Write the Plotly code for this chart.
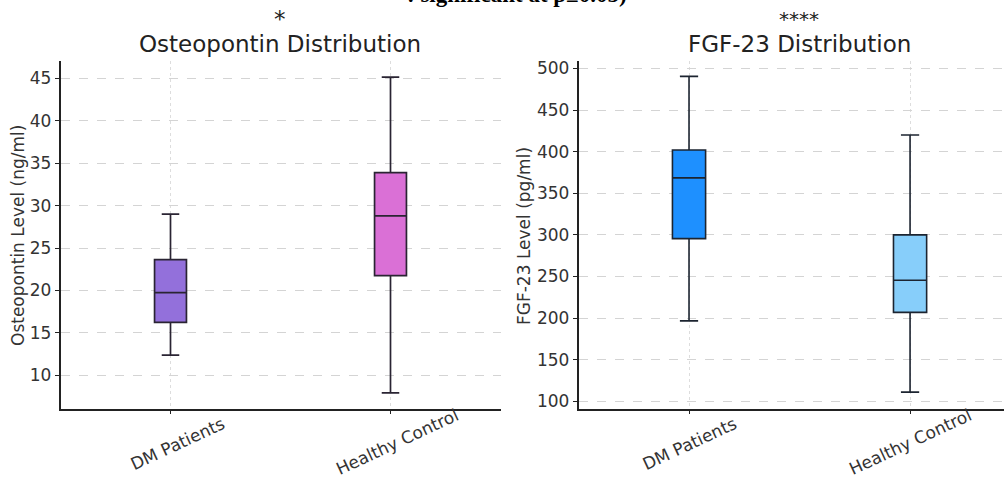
import plotly.graph_objects as go

categories = ["DM Patients", "Healthy Control"]

# Osteopontin (ng/ml) box statistics
opn_lower = [12.4, 7.95]
opn_q1 = [16.25, 21.75]
opn_median = [19.75, 28.8]
opn_q3 = [23.65, 33.9]
opn_upper = [29.0, 45.15]

# FGF-23 (pg/ml) box statistics
fgf_lower = [196.8, 111.2]
fgf_q1 = [295.5, 207.0]
fgf_median = [368.5, 245.5]
fgf_q3 = [402.0, 300.0]
fgf_upper = [490.4, 420.0]

opn_colors = ["#9370DB", "#DA70D6"]
fgf_colors = ["#1E90FF", "#87CEFA"]

W, H = 1004, 493


def px_x(v):
    return v / W


def px_y(v):
    return (H - v) / H


fig = go.Figure()

for i, cat in enumerate(categories):
    fig.add_trace(go.Box(
        x=[i], q1=[opn_q1[i]], median=[opn_median[i]], q3=[opn_q3[i]],
        lowerfence=[opn_lower[i]], upperfence=[opn_upper[i]],
        fillcolor=opn_colors[i], line=dict(color="#2a2433", width=1.7),
        width=0.145, whiskerwidth=0.55, boxpoints=False,
        xaxis="x", yaxis="y", showlegend=False, name=cat,
    ))
    fig.add_trace(go.Box(
        x=[i], q1=[fgf_q1[i]], median=[fgf_median[i]], q3=[fgf_q3[i]],
        lowerfence=[fgf_lower[i]], upperfence=[fgf_upper[i]],
        fillcolor=fgf_colors[i], line=dict(color="#1c2430", width=1.6),
        width=0.15, whiskerwidth=0.55, boxpoints=False,
        xaxis="x2", yaxis="y2", showlegend=False, name=cat,
    ))

ydom = [px_y(408.5), px_y(60.5)]
tickfont = dict(family="DejaVu Sans", size=17, color="#333333")

common_x = dict(
    tickmode="array", tickvals=[0, 1], ticktext=["", ""],
    showgrid=True, gridcolor="#dddddd", griddash="dot", gridwidth=1,
    showline=True, linecolor="#222222", linewidth=1.5,
    ticks="outside", ticklen=4, tickcolor="#222222",
    zeroline=False, fixedrange=True, automargin=False,
)
common_y = dict(
    showgrid=True, gridcolor="#d4d4d4", griddash="dash", gridwidth=1,
    showline=True, linecolor="#222222", linewidth=1.5,
    ticks="outside", ticklen=4, tickcolor="#222222",
    tickfont=tickfont, zeroline=False, fixedrange=True, automargin=False,
)

fig.update_layout(
    width=W, height=H,
    margin=dict(l=0, r=0, t=0, b=0, pad=0, autoexpand=False),
    paper_bgcolor="white", plot_bgcolor="white",
    xaxis=dict(domain=[px_x(60.5), px_x(500.5)], range=[-0.5, 1.5], anchor="y", **common_x),
    yaxis=dict(domain=ydom, range=[6.1, 47.1], tickvals=[10, 15, 20, 25, 30, 35, 40, 45],
               anchor="x", **common_y),
    xaxis2=dict(domain=[px_x(578.5), 1.0], range=[-0.5, 1.425], anchor="y2", **common_x),
    yaxis2=dict(domain=ydom, range=[91.5, 509.5], tickvals=[100, 150, 200, 250, 300, 350, 400, 450, 500],
                anchor="x2", **common_y),
)

ann = []
title_font = dict(family="DejaVu Sans", size=23, color="#222222")
ann.append(dict(text="*", x=px_x(280), y=px_y(19), xref="paper", yref="paper",
                showarrow=False, font=title_font, xanchor="center", yanchor="middle"))
ann.append(dict(text="Osteopontin Distribution", x=px_x(280), y=px_y(44), xref="paper", yref="paper",
                showarrow=False, font=title_font, xanchor="center", yanchor="middle"))
ann.append(dict(text="****", x=px_x(799), y=px_y(19), xref="paper", yref="paper",
                showarrow=False, font=dict(family="DejaVu Sans", size=20, color="#222222"),
                xanchor="center", yanchor="middle"))
ann.append(dict(text="FGF-23 Distribution", x=px_x(799), y=px_y(44), xref="paper", yref="paper",
                showarrow=False, font=title_font, xanchor="center", yanchor="middle"))
# cut-off caption line at the very top
ann.append(dict(text="<b>: significant at p≤0.05)</b>", x=px_x(517), y=px_y(9), xref="paper", yref="paper",
                showarrow=False, font=dict(family="Liberation Serif", size=23, color="#000000"),
                xanchor="center", yanchor="bottom"))
# y axis titles
ylab_font = dict(family="DejaVu Sans", size=17, color="#333333")
ann.append(dict(text="Osteopontin Level (ng/ml)", x=px_x(18), y=px_y(236), xref="paper", yref="paper",
                showarrow=False, font=ylab_font, textangle=-90, xanchor="center", yanchor="middle"))
ann.append(dict(text="FGF-23 Level (pg/ml)", x=px_x(524), y=px_y(236), xref="paper", yref="paper",
                showarrow=False, font=ylab_font, textangle=-90, xanchor="center", yanchor="middle"))
# rotated category labels (centre heights in pixels)
label_centre_px = [444, 442]
xlab_font = dict(family="DejaVu Sans", size=17, color="#333333")
for i, cat in enumerate(categories):
    for xr, dx in (("x", 0.03), ("x2", 0.0)):
        ann.append(dict(text=cat, x=i + dx, xref=xr, y=px_y(label_centre_px[i]), yref="paper",
                        showarrow=False, font=xlab_font, textangle=-25,
                        xanchor="center", yanchor="middle"))

fig.update_layout(annotations=ann)
fig.write_html("out.html", post_script="document.body.style.margin='0';",
               config={"displayModeBar": False})
